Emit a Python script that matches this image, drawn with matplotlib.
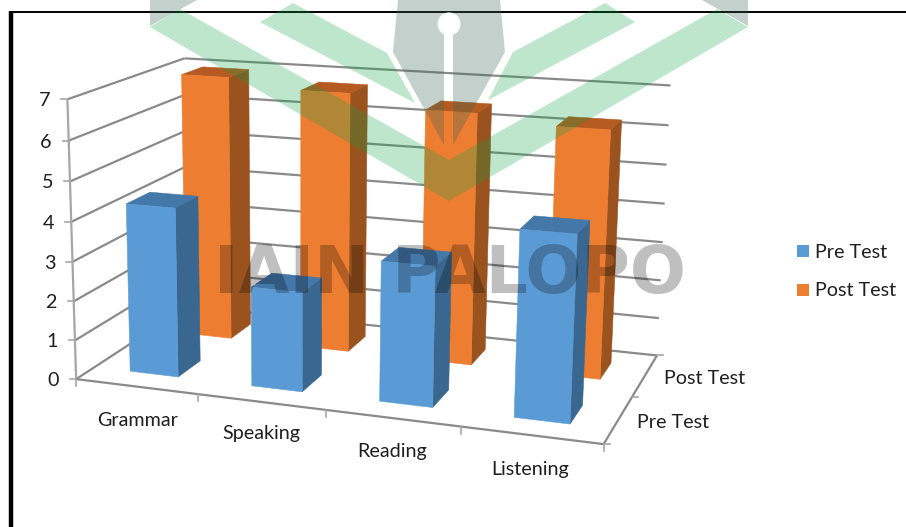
import numpy as np
import matplotlib
matplotlib.use("Agg")
import matplotlib.pyplot as plt
from matplotlib.patches import Polygon, Rectangle, Circle

categories = ["Grammar", "Speaking", "Reading", "Listening"]
series_names = ["Pre Test", "Post Test"]
pre_values = [4.3, 2.5, 3.45, 4.5]
post_values = [6.97, 6.75, 6.45, 6.25]
value_ticks = [0, 1, 2, 3, 4, 5, 6, 7]

FONT = "Lato"
FS = 14.2
TXT = "#1f1f1f"
GRID = "#8a8a8a"
FRONT = {"Pre Test": "#5B9BD5", "Post Test": "#ED7D31"}
TOP = {"Pre Test": "#4478A8", "Post Test": "#B55A20"}
SIDE = {"Pre Test": "#39678F", "Post Test": "#9A521E"}

# camera calibration: box corners of the chart's 3D frame -> picture pixels
world = np.array([(0,0,0),(0,0,7),(0,2,7),(0,2,0),(4,0,0),(4,2,0),(4,2,7),
                  (1,0,0),(2,0,0),(3,0,0),(4,1,0)], float)
pixel = np.array([(79,378),(65,98),(187,59),(185,306),(602,444),(657,354),(670,86),
                  (199,396),(326,410),(460,427),(635,397)], float)
rows = []
for (X, Y, Z), (u, v) in zip(world, pixel):
    rows.append([X, Y, Z, 1, 0, 0, 0, 0, -u*X, -u*Y, -u*Z, -u])
    rows.append([0, 0, 0, 0, X, Y, Z, 1, -v*X, -v*Y, -v*Z, -v])
P = np.linalg.svd(np.array(rows))[2][-1].reshape(3, 4)

def proj(x, y, z):
    h = P @ np.array([x, y, z, 1.0])
    return h[0]/h[2], h[1]/h[2]

fig = plt.figure(figsize=(9.06, 5.27), dpi=100)
ax = fig.add_axes([0, 0, 1, 1])
ax.set_xlim(0, 906)
ax.set_ylim(527, 0)
ax.axis("off")

def line(a, b, **kw):
    pa, pb = proj(*a), proj(*b)
    ax.plot([pa[0], pb[0]], [pa[1], pb[1]], color=kw.get("color", GRID),
            lw=kw.get("lw", 1.6), solid_capstyle="butt", zorder=kw.get("zorder", 2))

n = len(categories)
zmax = value_ticks[-1]
for z in value_ticks:
    line((0, 0, z), (0, 2, z))
    line((0, 2, z), (n, 2, z))
    p = proj(0, 0, z)
    ax.plot([p[0]-6, p[0]], [p[1], p[1]], color="#a6a6a6", lw=1.2, zorder=2)
    ax.text(p[0]-17, p[1]+1.5, str(z), ha="right", va="center", fontsize=FS,
            family=FONT, color=TXT)
line((0, 0, 0), (0, 0, zmax), color="#a6a6a6")
line((0, 0, 0), (n, 0, 0))
line((n, 0, 0), (n, 2, 0))
for i in range(n + 1):
    p = proj(i, 0, 0)
    ax.plot([p[0], p[0]], [p[1], p[1]+7], color="#a6a6a6", lw=1.2, zorder=2)
for d in range(3):
    p = proj(n, d, 0)
    ax.plot([p[0], p[0]+6], [p[1], p[1]], color="#a6a6a6", lw=1.2, zorder=2)

W = 0.4
def bar(i, d, val, name, zo):
    x0, x1 = i + 0.5 - W/2, i + 0.5 + W/2
    y0, y1 = d + 0.5 - W/2, d + 0.5 + W/2
    faces = [
        ([(x1,y0,0),(x1,y1,0),(x1,y1,val),(x1,y0,val)], SIDE[name]),
        ([(x0,y0,val),(x1,y0,val),(x1,y1,val),(x0,y1,val)], TOP[name]),
        ([(x0,y0,0),(x1,y0,0),(x1,y0,val),(x0,y0,val)], FRONT[name]),
    ]
    for pts, col in faces:
        ax.add_patch(Polygon([proj(*q) for q in pts], closed=True, facecolor=col,
                             edgecolor=col, lw=0.4, zorder=zo))

for i, v in enumerate(post_values):
    bar(i, 1, v, "Post Test", 3 + i*0.01)
for i, v in enumerate(pre_values):
    bar(i, 0, v, "Pre Test", 4 + i*0.01)

# category labels
label_pos = [(138, 420), (261, 434), (392, 452), (530, 470)]
for name, (lx, ly) in zip(categories, label_pos):
    ax.text(lx, ly, name, ha="center", va="center", fontsize=FS, family=FONT, color=TXT)
for name, (lx, ly) in zip(series_names, [(673, 422), (705, 378)]):
    ax.text(lx, ly, name, ha="center", va="center", fontsize=FS, family=FONT, color=TXT)

# legend
for name, ly in zip(series_names, [251, 290]):
    ax.add_patch(Rectangle((797, ly-6), 12, 12, facecolor=FRONT[name], edgecolor="none", zorder=5))
    ax.text(815, ly+1, name, ha="left", va="center", fontsize=FS, family=FONT, color=TXT)

# frame of the embedded picture
ax.plot([11, 11], [11, 527], color="black", lw=3.2, zorder=6, solid_capstyle="butt")
ax.plot([9, 906], [11.5, 11.5], color="black", lw=1.4, zorder=6, solid_capstyle="butt")

# watermark
GREEN = dict(facecolor=(15/255, 163/255, 70/255), alpha=0.27, edgecolor="none", zorder=7)
PEN = dict(facecolor=(60/255, 100/255, 85/255), alpha=0.3, edgecolor="none", zorder=7)
for poly in ([(150,27),(180,9),(449,160),(717,9),(748,27),(449,201)],
             [(260,22),(293,3),(387,53),(415,103)],
             [(635,22),(605,3),(513,52),(488,100)]):
    ax.add_patch(Polygon(poly, closed=True, **GREEN))
for poly in ([(398,0),(444,0),(444,145),(393,52)],
             [(453,0),(500,0),(505,52),(453,145)],
             [(444,0),(453,0),(453,32),(444,32)],
             [(150,0),(197,0),(150,26)],
             [(702,0),(748,0),(748,26)]):
    ax.add_patch(Polygon(poly, closed=True, **PEN))
ax.add_patch(Circle((449, 24), 11.5, facecolor="white", edgecolor="none", zorder=8))
ax.text(450, 275, "IAIN PALOPO", ha="center", va="center", fontsize=47.5, fontweight="bold",
        family="DejaVu Sans", color="black", alpha=0.25, zorder=7)

fig.savefig("out.png", dpi=100)
